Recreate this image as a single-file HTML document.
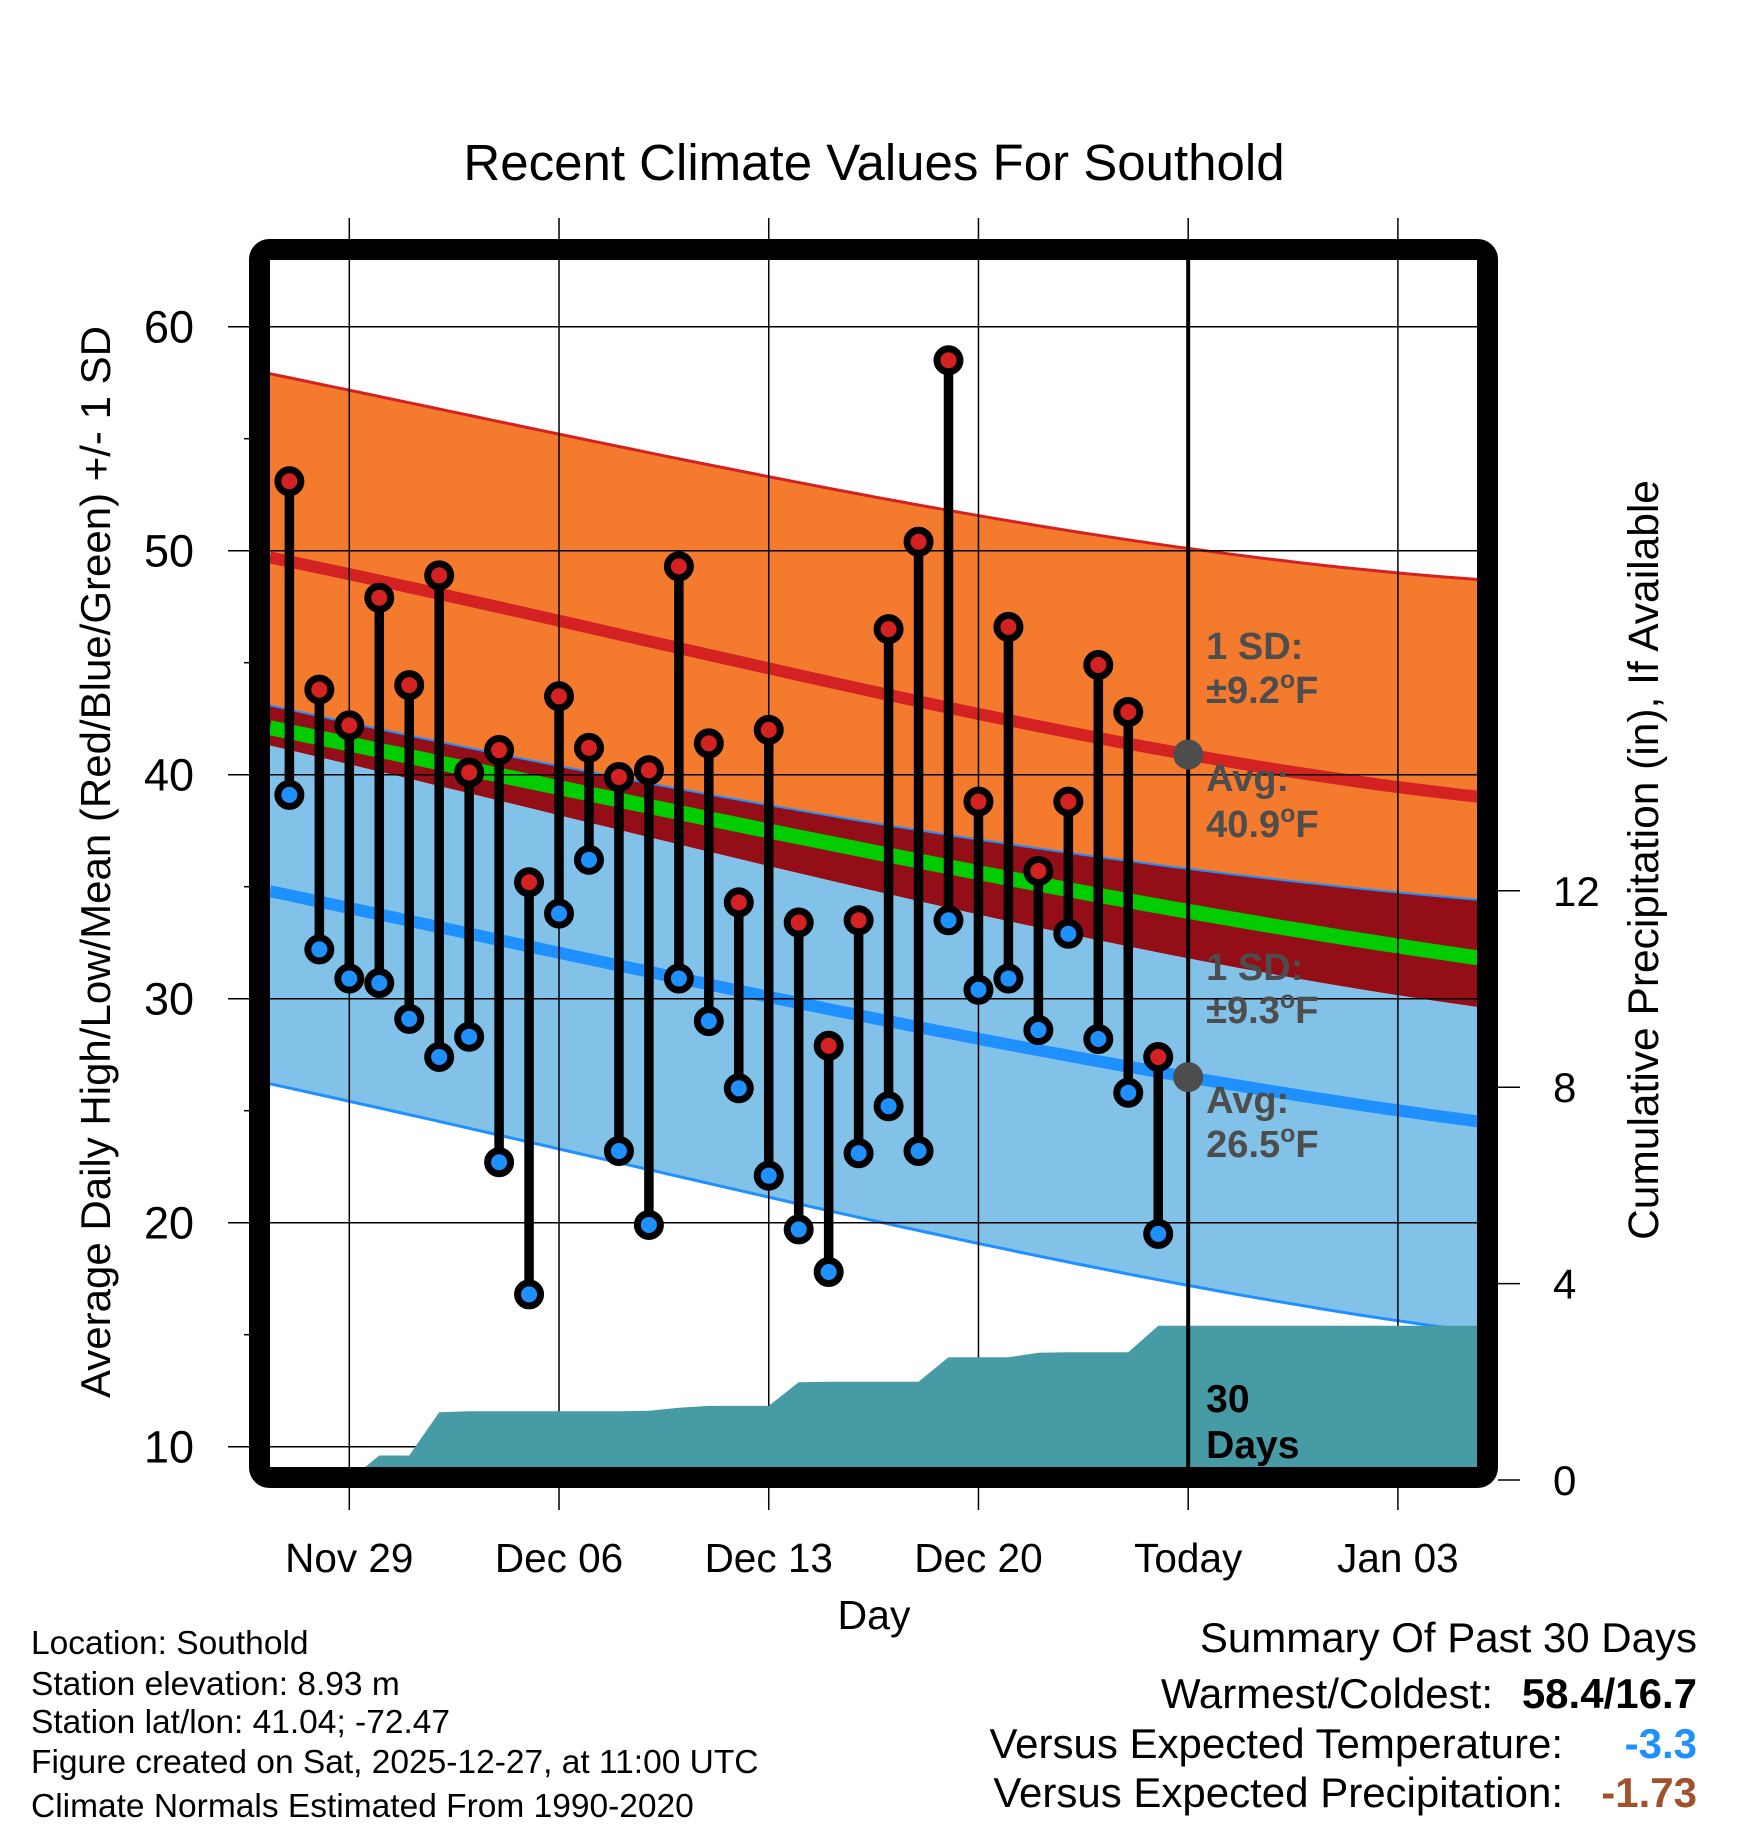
<!DOCTYPE html>
<html><head><meta charset="utf-8"><style>
html,body{margin:0;padding:0;background:#fff;}
svg{display:block;font-family:"Liberation Sans",sans-serif;}
</style></head><body>
<svg id="chart" width="1748" height="1828" viewBox="0 0 1748 1828" xmlns="http://www.w3.org/2000/svg">
<defs><clipPath id="pc"><rect x="270" y="260" width="1208" height="1208"/></clipPath></defs>
<text x="874" y="180" font-size="51" text-anchor="middle">Recent Climate Values For Southold</text>
<g id="bands" clip-path="url(#pc)"></g>
<g id="grid"></g>
<g id="precip" clip-path="url(#pc)"></g>
<g id="marks" clip-path="url(#pc)"></g>
<rect x="259.5" y="249.5" width="1228" height="1228" rx="10" fill="none" stroke="#000" stroke-width="21"/>
<g id="axes"></g>
<text transform="translate(110,862) rotate(-90)" font-size="42" text-anchor="middle">Average Daily High/Low/Mean (Red/Blue/Green) +/- 1 SD</text>
<text transform="translate(1658,860) rotate(-90)" font-size="42.5" text-anchor="middle">Cumulative Precipitation (in), If Available</text>
<text x="874" y="1629" font-size="41" text-anchor="middle">Day</text>
<g font-size="33.5">
<text x="31" y="1654">Location: Southold</text>
<text x="31" y="1695">Station elevation: 8.93 m</text>
<text x="31" y="1733">Station lat/lon: 41.04; -72.47</text>
<text x="31" y="1773">Figure created on Sat, 2025-12-27, at 11:00 UTC</text>
<text x="31" y="1817">Climate Normals Estimated From 1990-2020</text>
</g>
<g font-size="42">
<text x="1697" y="1652" text-anchor="end">Summary Of Past 30 Days</text>
<text x="1493" y="1708" text-anchor="end">Warmest/Coldest:</text>
<text x="1697" y="1708" text-anchor="end" font-weight="bold">58.4/16.7</text>
<text x="1563" y="1758" text-anchor="end">Versus Expected Temperature:</text>
<text x="1697" y="1758" text-anchor="end" font-weight="bold" fill="#1e90ff">-3.3</text>
<text x="1563" y="1807" text-anchor="end">Versus Expected Precipitation:</text>
<text x="1697" y="1807" text-anchor="end" font-weight="bold" fill="#a0522d">-1.73</text>
</g>
</svg>
<script>
// ---- data ----
const obsDays = [-2,-1,0,1,2,3,4,5,6,7,8,9,10,11,12,13,14,15,16,17,18,19,20,21,22,23,24,25,26,27];
const highs = [53.1,43.8,42.2,47.9,44.0,48.9,40.1,41.1,35.2,43.5,41.2,39.9,40.2,49.3,41.4,34.3,42.0,33.4,27.9,33.5,46.5,50.4,58.5,38.8,46.6,35.7,38.8,44.9,42.8,27.4];
const lows  = [39.1,32.2,30.9,30.7,29.1,27.4,28.3,22.7,16.8,33.8,36.2,23.2,19.9,30.9,29.0,26.0,22.1,19.7,17.8,23.1,25.2,23.2,33.5,30.4,30.9,28.6,32.9,28.2,25.8,19.5];
const precipDays = [-2,-1,0,1,2,3,4,5,6,7,8,9,10,11,12,13,14,15,16,17,18,19,20,21,22,23,24,25,26,27,38];
const precipCum = [0,0,0,0.5,0.5,1.38,1.4,1.4,1.4,1.4,1.4,1.4,1.41,1.47,1.51,1.51,1.51,1.99,2.0,2.0,2.0,2.0,2.5,2.5,2.5,2.59,2.6,2.6,2.6,3.14,3.14];
const normDays = [-2.65,12.5,28,37.8];
const hiPlus  = [57.9,53.7,50.1,48.7];
const hiAvg   = [49.7,45.2,40.9,39.0];
const hiMinus = [43.1,39.0,35.8,34.4];
const meanT   = [42.1,37.9,33.9,31.8];
const loPlus  = [41.3,36.4,31.8,29.6];
const loAvg   = [34.8,30.5,26.5,24.5];
const loMinus = [26.2,21.6,17.2,15.1];
const yTicks = [10,20,30,40,50,60];
const yMinor = [15,25,35,45,55];
const y2Ticks = [0,4,8,12];
const xTickDays = [0,7,14,21,28,35];
const xTickLabels = ["Nov 29","Dec 06","Dec 13","Dec 20","Today","Jan 03"];
const todayDay = 28;

// ---- scales ----
const X = d => 349.3 + d*29.96;
const Y = t => 326.7 + (60-t)*22.4;
const P = p => 1480 - p*49.1;
const NS = "http://www.w3.org/2000/svg";
function mk(tag, parent, attrs){const e=document.createElementNS(NS,tag);for(const k in attrs)e.setAttribute(k,attrs[k]);parent.appendChild(e);return e;}
function interp(arr, d){
  let s=0;for(let i=0;i<normDays.length;i++){let l=1;for(let j=0;j<normDays.length;j++){if(j!==i)l*=(d-normDays[j])/(normDays[i]-normDays[j]);}s+=arr[i]*l;}return s;}
const samples=[];for(let i=0;i<=60;i++)samples.push(-2.65+(37.8+2.65)*i/60);
const linePts = arr => samples.map(d=>X(d).toFixed(1)+","+Y(interp(arr,d)).toFixed(1));
function bandPath(a,b){const t=linePts(a),u=linePts(b).reverse();return "M"+t.join("L")+"L"+u.join("L")+"Z";}

const bands=document.getElementById('bands');
let e;
e=mk('path',bands,{d:bandPath(hiPlus,hiMinus),fill:'#f47a2e'});


e=mk('path',bands,{d:bandPath(hiMinus,loPlus),fill:'#930e16'});


e=mk('path',bands,{d:bandPath(loPlus,loMinus),fill:'#82c1e8'});


const lines=[[hiPlus,'#d42222',3,'high-plus-sd-line'],[hiAvg,'#d42222',12,'high-avg-line'],[hiMinus,'#1e90ff',2,'high-minus-sd-line'],[meanT,'#00cc00',15,'mean-line'],[loAvg,'#1e90ff',12,'low-avg-line'],[loMinus,'#1e90ff',3,'low-minus-sd-line']];
lines.forEach(l=>{e=mk('polyline',bands,{points:linePts(l[0]).join(' '),fill:'none',stroke:l[1],'stroke-width':l[2]});

});

const grid=document.getElementById('grid');
yTicks.forEach(t=>{e=mk('line',grid,{x1:228,x2:1478,y1:Y(t),y2:Y(t),stroke:'#000','stroke-width':1.5});

});
yMinor.forEach(t=>{e=mk('line',grid,{x1:244,x2:260,y1:Y(t),y2:Y(t),stroke:'#000','stroke-width':1.5});

});
xTickDays.forEach(d=>{e=mk('line',grid,{x1:X(d),x2:X(d),y1:218,y2:1510,stroke:'#000','stroke-width':1.5});

});

const pg=document.getElementById('precip');
let pd="M"+X(precipDays[0])+","+P(0);
precipDays.forEach((d,i)=>{pd+="L"+X(d).toFixed(1)+","+P(precipCum[i]).toFixed(1);});
pd+="L"+X(precipDays[precipDays.length-1])+","+P(0)+"Z";
e=mk('path',pg,{d:pd,fill:'#479ba4'});



const mg=document.getElementById('marks');
e=mk('line',mg,{x1:X(todayDay),x2:X(todayDay),y1:250,y2:1470,stroke:'#000','stroke-width':4});


obsDays.forEach((d,i)=>{
  e=mk('line',mg,{x1:X(d),x2:X(d),y1:Y(highs[i]),y2:Y(lows[i]),stroke:'#000','stroke-width':9.5});
  
  
});
obsDays.forEach((d,i)=>{
  e=mk('circle',mg,{cx:X(d),cy:Y(highs[i]),r:11.5,fill:'#d42222',stroke:'#000','stroke-width':7});
  
  
  e=mk('circle',mg,{cx:X(d),cy:Y(lows[i]),r:11.5,fill:'#1e90ff',stroke:'#000','stroke-width':7});
  
  
});
[[interp(hiAvg,todayDay),'today-high-avg-marker'],[interp(loAvg,todayDay),'today-low-avg-marker']].forEach(m=>{
  e=mk('circle',mg,{cx:X(todayDay),cy:Y(m[0]),r:15,fill:'#4d4d4d'});
  
  
});
function label(x,y,txt,name,color,fs){
  e=mk('text',mg,{x:x,y:y,'font-size':fs||38,'font-weight':'bold',fill:color});
  
  
  e.innerHTML=txt;}
const g='#4d4d4d', lx=X(todayDay)+18;
const deg='<tspan dy="-15" font-size="25">o</tspan><tspan dy="15">F</tspan>';
label(lx,659,'1 SD:','high-sd-label',g);
label(lx,703,'±9.2'+deg,'high-sd-value',g);
label(lx,791,'Avg:','high-avg-label',g);
label(lx,837,'40.9'+deg,'high-avg-value',g);
label(lx,980,'1 SD:','low-sd-label',g);
label(lx,1023,'±9.3'+deg,'low-sd-value',g);
label(lx,1113,'Avg:','low-avg-label',g);
label(lx,1157,'26.5'+deg,'low-avg-value',g);
label(lx,1412,'30','days-count-label','#000',39);
label(lx,1458,'Days','days-label','#000',39);

const ax=document.getElementById('axes');
yTicks.forEach(t=>{e=mk('text',ax,{x:194,y:Y(t)+16,'font-size':45,'text-anchor':'end'});


e.textContent=t;});
y2Ticks.forEach(p=>{
  e=mk('line',ax,{x1:1498,x2:1520,y1:P(p),y2:P(p),stroke:'#000','stroke-width':1.5});
  
  
  e=mk('text',ax,{x:1553,y:P(p)+15,'font-size':42});
  
  
  e.textContent=p;});
xTickDays.forEach((d,i)=>{e=mk('text',ax,{x:X(d),y:1572,'font-size':40.5,'text-anchor':'middle'});


e.textContent=xTickLabels[i];});
</script>
</body></html>
